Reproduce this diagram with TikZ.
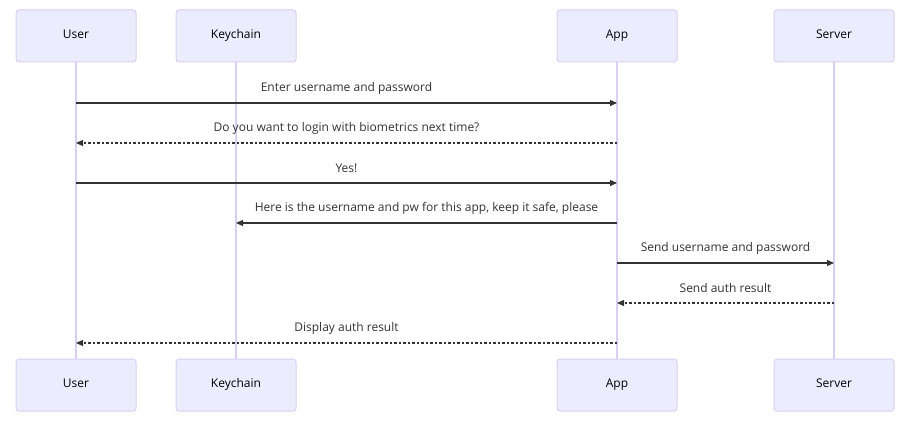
\documentclass[tikz,border=0pt]{standalone}
\usepackage{fontspec}
\setmainfont{Open Sans}
\usetikzlibrary{arrows.meta}
\definecolor{actfill}{HTML}{ECECFF}
\definecolor{actline}{HTML}{DACEF3}
\definecolor{sig}{HTML}{333333}
\begin{document}
\begin{tikzpicture}[x=1pt,y=-1pt,
  actor/.style={draw=actline,fill=actfill,line width=1pt,rounded corners=3pt,minimum width=120pt,minimum height=52pt,inner sep=0pt,font=\fontsize{12}{14}\selectfont,text=black},
  aname/.style={inner sep=0pt,font=\fontsize{12}{14}\selectfont,text=black,anchor=base},
  life/.style={draw=actline,line width=1.1pt},
  msg/.style={draw=sig,line width=1.2pt,-{Triangle[length=7pt,width=6pt]}},
  reply/.style={msg,dash pattern=on 2.5pt off 2pt},
  lbl/.style={font=\fontsize{12}{14}\selectfont,text=sig,inner sep=0pt}]
\useasboundingbox (0,0) rectangle (919,422);
% top actors
\node[actor] (uT) at (76,36) {};
\node[actor] (kT) at (236,36) {};
\node[actor] (aT) at (617,36) {};
\node[actor] (sT) at (834,36) {};
\node[aname] (uTt) at (76,38.5) {User};
\node[aname] (kTt) at (236,38.5) {Keychain};
\node[aname] (aTt) at (617,38.5) {App};
\node[aname] (sTt) at (834,38.5) {Server};
% bottom actors
\node[actor] (uB) at (76,385) {};
\node[actor] (kB) at (236,385) {};
\node[actor] (aB) at (617,385) {};
\node[actor] (sB) at (834,385) {};
\node[aname] (uBt) at (76,387.5) {User};
\node[aname] (kBt) at (236,387.5) {Keychain};
\node[aname] (aBt) at (617,387.5) {App};
\node[aname] (sBt) at (834,387.5) {Server};
% lifelines
\draw[life] (uT.south) -- (uB.north);
\draw[life] (kT.south) -- (kB.north);
\draw[life] (aT.south) -- (aB.north);
\draw[life] (sT.south) -- (sB.north);
% message endpoints
\foreach \n/\y in {1/103,2/143,3/183,4/223,5/263,6/303,7/343}{
  \coordinate (u\n) at (76,\y);
  \coordinate (k\n) at (236,\y);
  \coordinate (a\n) at (617,\y);
  \coordinate (s\n) at (834,\y);
}
\draw[msg] (u1) -- (a1);
\node[lbl] (l1) at (346.5,88) {Enter username and password};
\draw[reply] (a2) -- (u2);
\node[lbl] (l2) at (346.5,128) {Do you want to login with biometrics next time?};
\draw[msg] (u3) -- (a3);
\node[lbl] (l3) at (346.5,168) {Yes!};
\draw[msg] (a4) -- (k4);
\node[lbl] (l4) at (426.5,208) {Here is the username and pw for this app, keep it safe, please};
\draw[msg] (a5) -- (s5);
\node[lbl] (l5) at (725.5,248) {Send username and password};
\draw[reply] (s6) -- (a6);
\node[lbl] (l6) at (725.5,288) {Send auth result};
\draw[reply] (a7) -- (u7);
\node[lbl] (l7) at (346.5,328) {Display auth result};
\end{tikzpicture}
\end{document}
